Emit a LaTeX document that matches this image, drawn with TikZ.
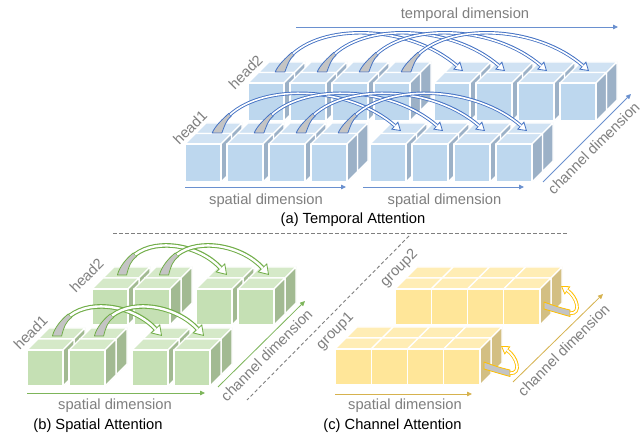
\documentclass[tikz,border=0pt]{standalone}
\usepackage{fontspec}
\setmainfont{Liberation Sans}
\usetikzlibrary{calc,arrows.meta}

\definecolor{bfront}{HTML}{BDD7EE}
\definecolor{btop}{HTML}{D0E2F3}
\definecolor{bside}{HTML}{9CB1C7}
\definecolor{gfront}{HTML}{C5E0B4}
\definecolor{gtop}{HTML}{D5E9C8}
\definecolor{gside}{HTML}{A2BA92}
\definecolor{yfront}{HTML}{FFE699}
\definecolor{ytop}{HTML}{FFEDB5}
\definecolor{yside}{HTML}{D3BF83}
\definecolor{ablue}{HTML}{4472C4}
\definecolor{agreen}{HTML}{70AD47}
\definecolor{ayellow}{HTML}{FFC000}
\definecolor{axblue}{HTML}{6A90CF}
\definecolor{axgreen}{HTML}{7DB55A}
\definecolor{axgold}{HTML}{D6B24E}
\definecolor{arcgray}{HTML}{C4C4C4}
\definecolor{lblgray}{HTML}{7F7F7F}
\definecolor{dashgray}{HTML}{7F7F7F}

\newcommand\lblfont{\fontsize{14.7}{17}\selectfont}
\newcommand\cubew{36}
\newcommand\cubeh{38}
\newcommand\cubedx{10.5}
\newcommand\cubeup{10.5}

% one cube: front top-left corner (#1,#2); colours front/top/side
\newcommand\onecube[5]{%
  \filldraw[cubeedge, fill=#4] (#1,#2) -- (#1+\cubedx,#2-\cubeup) -- (#1+\cubew+\cubedx,#2-\cubeup) -- (#1+\cubew,#2) -- cycle;
  \filldraw[cubeedge, fill=#5] (#1+\cubew,#2) -- (#1+\cubew+\cubedx,#2-\cubeup) -- (#1+\cubew+\cubedx,#2+\cubeh-\cubeup) -- (#1+\cubew,#2+\cubeh) -- cycle;
  \filldraw[cubeedge, fill=#3] (#1,#2) rectangle (#1+\cubew,#2+\cubeh);
}
% two cubes in depth
\newcommand\dcube[5]{%
  \onecube{#1+\cubedx}{#2-\cubeup}{#3}{#4}{#5}%
  \onecube{#1}{#2}{#3}{#4}{#5}%
}

% attention arc from #1 to #2 in colour #3
\newcommand\apx{20}\newcommand\apy{-50}
\newcommand\bpx{-60}\newcommand\bpy{-52}
\newcommand\tsplit{0.14}
\newcommand\rws{4.8}\newcommand\rwf{1.25}
\newcommand\dwo{3.4pt}\newcommand\dwi{1.6pt}
\newcommand\tipl{8.5pt}\newcommand\tipw{10.5pt}
\newcommand\attarc[3]{%
  \coordinate (Q0) at #1;
  \coordinate (Q3) at #2;
  \coordinate (Q1) at ($(Q0)+(\apx,\apy)$);
  \coordinate (Q2) at ($(Q3)+(\bpx,\bpy)$);
  \coordinate (QA) at ($(Q0)!\tsplit!(Q1)$);
  \coordinate (QB) at ($(Q1)!\tsplit!(Q2)$);
  \coordinate (QC) at ($(Q2)!\tsplit!(Q3)$);
  \coordinate (QD) at ($(QA)!\tsplit!(QB)$);
  \coordinate (QE) at ($(QB)!\tsplit!(QC)$);
  \coordinate (QF) at ($(QD)!\tsplit!(QE)$);
  \filldraw[fill=arcgray, draw=#3, line width=0.8pt, line join=round]
    ($(Q0)+(-\rws,0)$) .. controls ($(QA)+(-\rws,0)$) and ($(QD)+(-\rwf,-\rwf)$) .. ($(QF)+(-\rwf,-\rwf)$)
    -- ($(QF)+(\rwf,\rwf)$) .. controls ($(QD)+(\rwf,\rwf)$) and ($(QA)+(\rws,0)$) .. ($(Q0)+(\rws,0)$) -- cycle;
  \draw[#3, line width=0.8pt, -{Triangle[length=\tipl,width=\tipw,fill=white]}] (QF) .. controls (QE) and (QC) .. (Q3);
  \draw[#3, line width=\dwo, shorten >=\tipl] (QF) .. controls (QE) and (QC) .. (Q3);
  \draw[white, line width=\dwi, shorten >=\tipl-0.8pt] (QF) .. controls (QE) and (QC) .. (Q3);
}

% curled channel arrow, reference = front top-right corner of last cube
\newcommand\curlarrow[2]{%
  \filldraw[fill=arcgray, draw=ayellow, line width=0.8pt, line join=round]
    (#1+4,#2+13) .. controls (#1+12,#2+16) and (#1+21,#2+19) .. (#1+30,#2+21)
    -- (#1+30,#2+27.5) .. controls (#1+21,#2+25) and (#1+11,#2+22) .. (#1+4,#2+20) -- cycle;
  \draw[ayellow, line width=0.8pt, -{Triangle[length=8pt,width=10pt,fill=white]}]
    (#1+30,#2+24.3) .. controls (#1+42,#2+25) and (#1+37,#2+8) .. (#1+21,#2-3);
  \draw[ayellow, line width=3.6pt, shorten >=8pt]
    (#1+30,#2+24.3) .. controls (#1+42,#2+25) and (#1+37,#2+8) .. (#1+21,#2-3);
  \draw[white, line width=1.8pt, shorten >=7.2pt]
    (#1+30,#2+24.3) .. controls (#1+42,#2+25) and (#1+37,#2+8) .. (#1+21,#2-3);
}

\begin{document}
\begin{tikzpicture}[x=1pt,y=-1pt,
  cubeedge/.style={draw=white, line width=1.1pt, line join=round},
  lbl/.style={text=lblgray, font=\lblfont, inner sep=0pt},
  captxt/.style={text=black, font=\lblfont, inner sep=0pt},
  axis/.style={line width=0.8pt, -{Triangle[length=5pt,width=4.5pt]}},
  sep/.style={dashgray, line width=0.9pt, dash pattern=on 3.5pt off 2.5pt}]

\fill[white] (0,0) rectangle (642,435);
\useasboundingbox (0,0) rectangle (642,435);

% ---------------- (a) Temporal attention ----------------
\begin{scope}
  \foreach \i in {0,1,2,3} {\dcube{248+42*\i}{83}{bfront}{btop}{bside}}
  \foreach \i in {0,1,2,3} {\dcube{434+42*\i}{83}{bfront}{btop}{bside}}
  \foreach \i in {0,1,2,3} {\attarc{(280+42*\i,72)}{(463+42*\i,71)}{ablue}}
  \foreach \i in {0,1,2,3} {\dcube{185+42*\i}{144}{bfront}{btop}{bside}}
  \foreach \i in {0,1,2,3} {\dcube{370+42*\i}{144}{bfront}{btop}{bside}}
  \foreach \i in {0,1,2,3} {\attarc{(217+42*\i,133)}{(401+42*\i,131)}{ablue}}
\end{scope}

\coordinate (ta1) at (296,27);  \coordinate (ta2) at (618,27);
\coordinate (sa1) at (185,187); \coordinate (sa2) at (346,187);
\coordinate (sb1) at (363,187); \coordinate (sb2) at (524,187);
\coordinate (ca1) at (543,182); \coordinate (ca2) at (631,94);
\draw[axis, axblue] (ta1) -- (ta2);
\draw[axis, axblue] (sa1) -- (sa2);
\draw[axis, axblue] (sb1) -- (sb2);
\draw[axis, axblue] (ca1) -- (ca2);

\node[lbl] (tdim) at (465,15) {temporal dimension};
\node[lbl] (sdim1) at (266,200.5) {spatial dimension};
\node[lbl] (sdim2) at (444.5,200.5) {spatial dimension};
\node[lbl, rotate=45] (cdima) at (593.5,148) {channel dimension};
\node[lbl, rotate=45] (h2a) at (245.5,72) {head2};
\node[lbl, rotate=45] (h1a) at (190,127.5) {head1};
\node[captxt] (capa) at (353,220) {(a) Temporal Attention};

% ---------------- separators ----------------
\coordinate (dh1) at (113,233); \coordinate (dh2) at (568,233);
\coordinate (dd1) at (409,236); \coordinate (dd2) at (247,400);
\draw[sep] (dh1) -- (dh2);
\draw[sep] (dd1) -- (dd2);

% ---------------- (b) Spatial attention ----------------
\begin{scope}
  \renewcommand\cubeh{36}\renewcommand\cubedx{11}\renewcommand\cubeup{11}
  \renewcommand\apx{10}\renewcommand\apy{-40}
  \renewcommand\bpx{-35}\renewcommand\bpy{-38}
  \renewcommand\tsplit{0.22}
  \renewcommand\rws{4.6}\renewcommand\rwf{1.7}
  \renewcommand\dwo{4.6pt}\renewcommand\dwi{2.4pt}
  \renewcommand\tipl{10pt}\renewcommand\tipw{13pt}
  \foreach \x in {92,134,196,238} {\dcube{\x}{289}{gfront}{gtop}{gside}}
  \attarc{(122,275)}{(227,275)}{agreen}
  \attarc{(164,275)}{(269,275)}{agreen}
  \foreach \x in {27,69,132,174} {\dcube{\x}{350}{gfront}{gtop}{gside}}
  \attarc{(57,336)}{(162,336)}{agreen}
  \attarc{(99,336)}{(204,336)}{agreen}
\end{scope}

\coordinate (sc1) at (27,393);  \coordinate (sc2) at (205,393);
\coordinate (cb1) at (218,387); \coordinate (cb2) at (305,301);
\draw[axis, axgreen] (sc1) -- (sc2);
\draw[axis, axgreen] (cb1) -- (cb2);
\node[lbl] (sdimb) at (115,405.5) {spatial dimension};
\node[lbl, rotate=45] (cdimb) at (266.5,355) {channel dimension};
\node[lbl, rotate=45] (h2b) at (86.5,275.5) {head2};
\node[lbl, rotate=45] (h1b) at (30.5,332.5) {head1};
\node[captxt] (capb) at (98,425.5) {(b) Spatial Attention};

% ---------------- (c) Channel attention ----------------
\begin{scope}
  \renewcommand\cubew{36.25}\renewcommand\cubeh{36}\renewcommand\cubedx{11}\renewcommand\cubeup{11}
  \foreach \i in {0,1,2,3} {\onecube{395+36.25*\i+11}{289-11}{yfront}{ytop}{yside}}
  \foreach \i in {0,1,2,3} {\onecube{395+36.25*\i}{289}{yfront}{ytop}{yside}}
  \curlarrow{540}{289}
  \foreach \i in {0,1,2,3} {\onecube{335+36.25*\i+11}{349-11}{yfront}{ytop}{yside}}
  \foreach \i in {0,1,2,3} {\onecube{335+36.25*\i}{349}{yfront}{ytop}{yside}}
  \curlarrow{480}{349}
\end{scope}

\coordinate (sd1) at (335,394); \coordinate (sd2) at (472,394);
\coordinate (cc1) at (513,382); \coordinate (cc2) at (603,294);
\draw[axis, axgold] (sd1) -- (sd2);
\draw[axis, axgold] (cc1) -- (cc2);
\node[lbl] (sdimc) at (405,405.5) {spatial dimension};
\node[lbl, rotate=45] (cdimc) at (563.5,350) {channel dimension};
\node[lbl, rotate=45] (g2c) at (399.5,268.5) {group2};
\node[lbl, rotate=45] (g1c) at (335.5,331.5) {group1};
\node[captxt] (capc) at (392.5,425.5) {(c) Channel Attention};

\end{tikzpicture}
\end{document}
